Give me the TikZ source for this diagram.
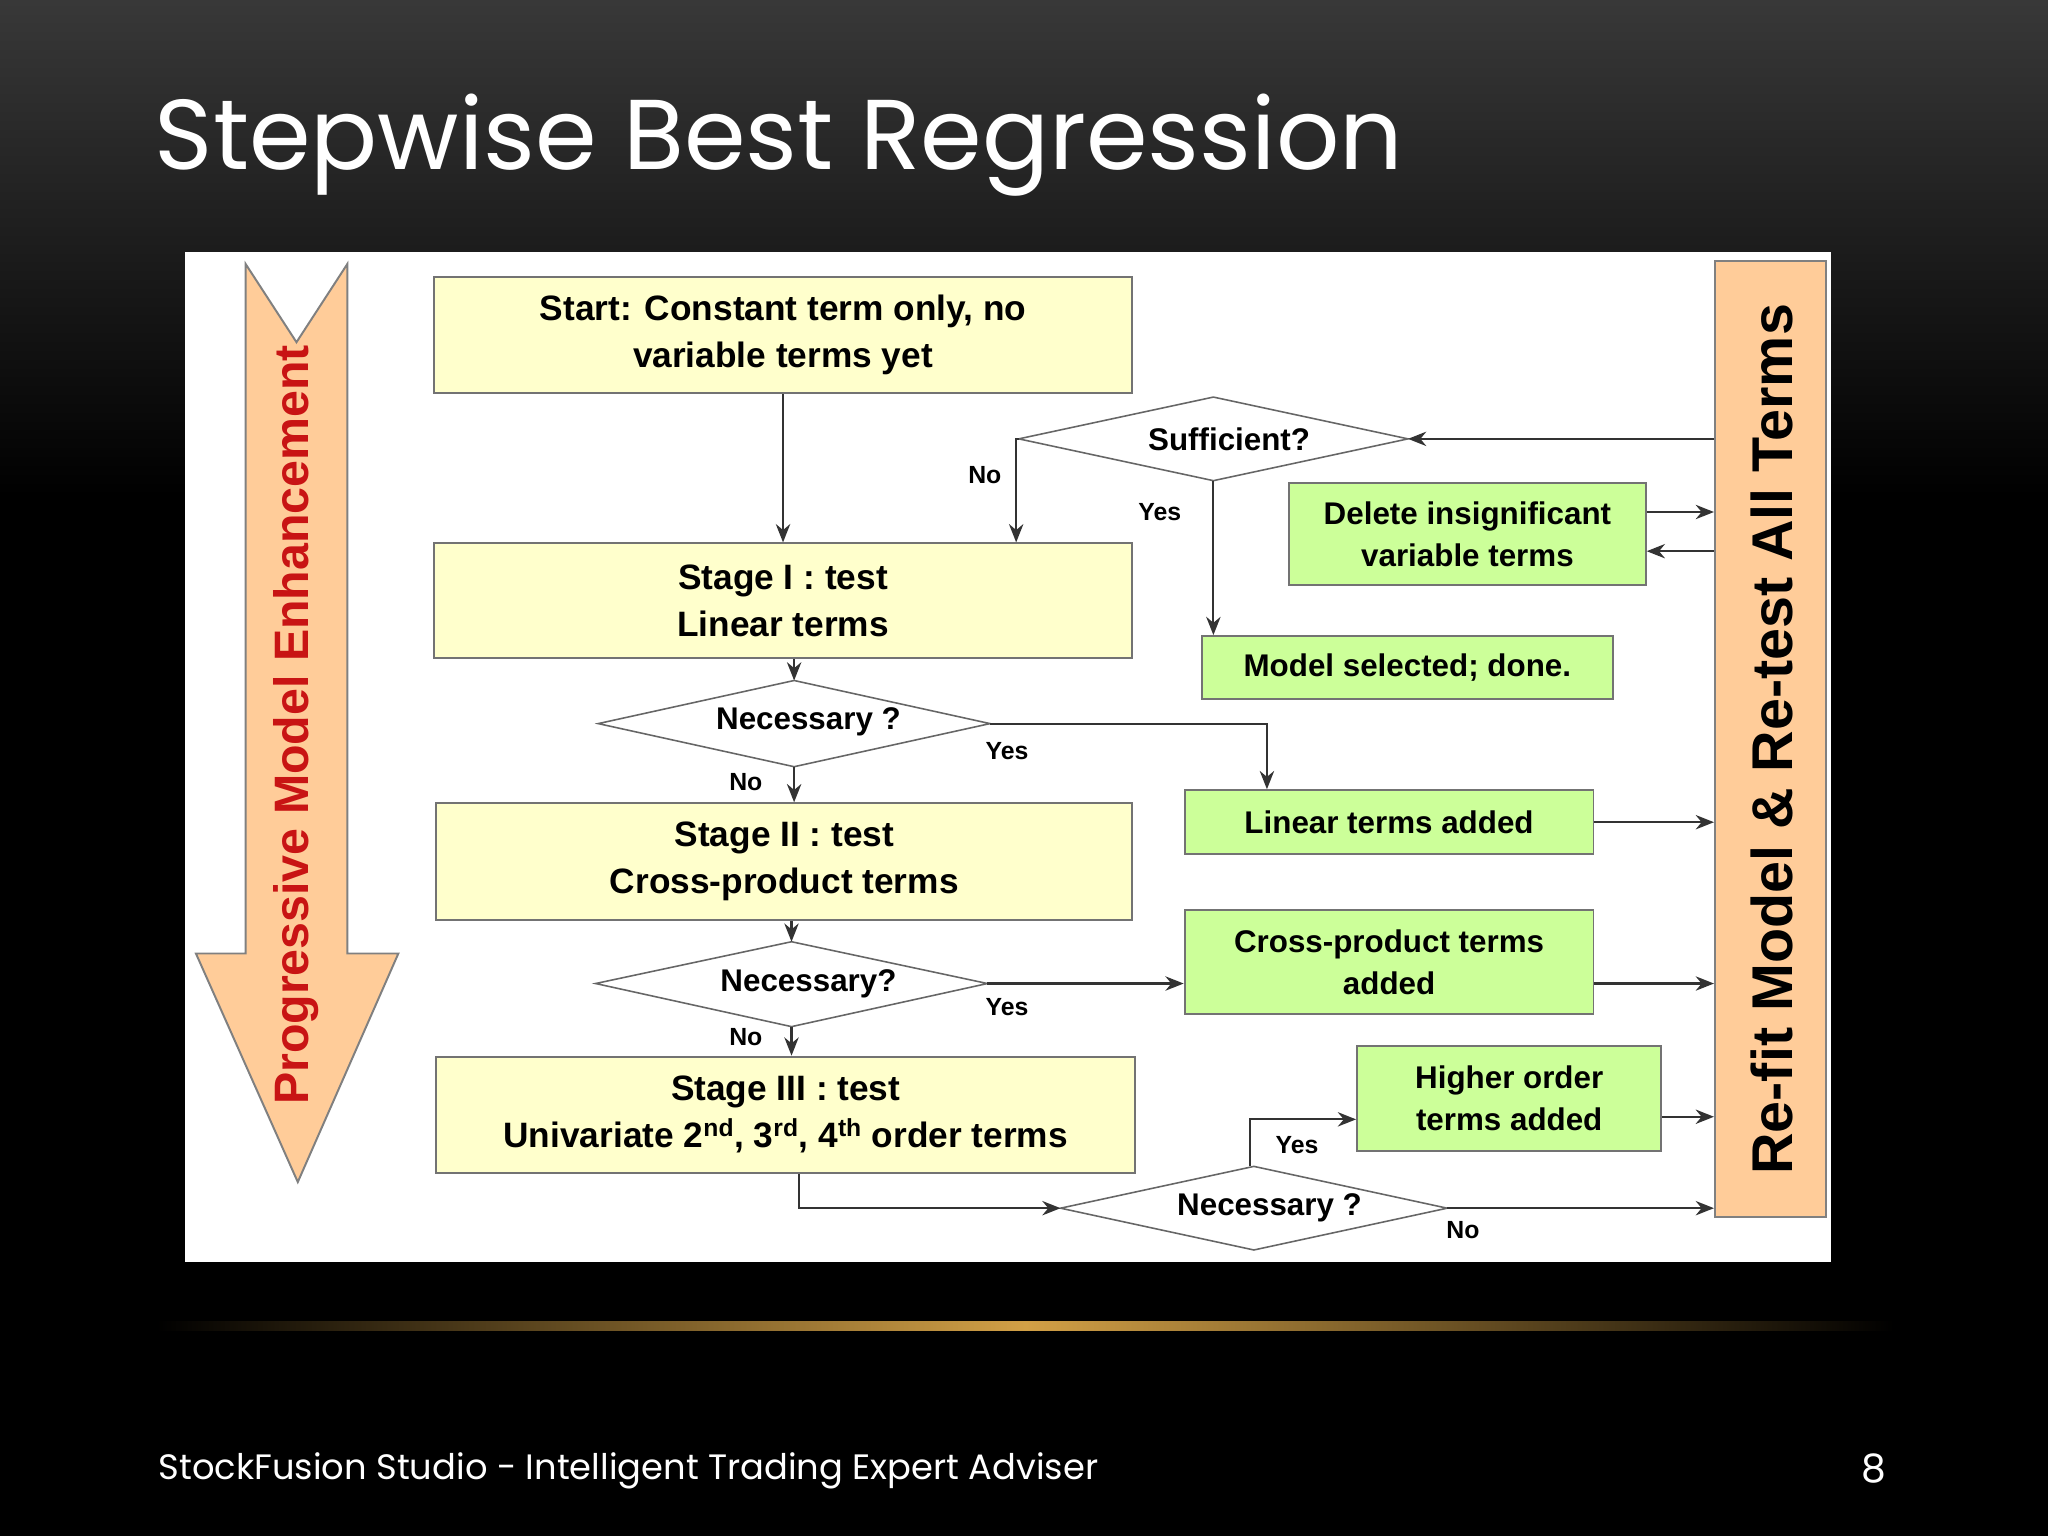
\documentclass[tikz,border=0pt]{standalone}
\usepackage{fontspec}
\setmainfont{Liberation Sans}
\newfontfamily\titlefont{Poppins}
\usetikzlibrary{shapes.geometric,arrows.meta}
\definecolor{ybox}{HTML}{FFFFCC}
\definecolor{gbox}{HTML}{CCFF99}
\definecolor{obox}{HTML}{FFCC99}
\tikzset{
 box/.style={draw=black!55,line width=1.5pt,align=center,font=\fontsize{27}{36}\selectfont\bfseries,inner sep=0pt},
 ybx/.style={box,fill=ybox},
 gbx/.style={box,fill=gbox},
 dia/.style={draw=black!60,line width=1.2pt,fill=white},
 dtx/.style={font=\fontsize{24}{28}\selectfont\bfseries,inner sep=0pt},
 con/.style={draw=black!80,line width=1.6pt,-{Stealth[length=14pt,width=11pt]}},
 lbl/.style={font=\fontsize{19}{22}\selectfont\bfseries}
}
\begin{document}
\begin{tikzpicture}[x=1pt,y=-1pt]
\useasboundingbox (0,0) rectangle (1568,1176);
\fill[black] (0,0) rectangle (1568,1176);
\shade[top color=black!78,bottom color=black] (0,0) rectangle (1568,380);
\shade[left color=black,right color=black,middle color={rgb,255:red,210;green,160;blue,70}] (120,1012) rectangle (1450,1019);
\node[anchor=base west,text=white,font=\titlefont\fontsize{76}{84}\selectfont] (title) at (115,130) {Stepwise Best Regression};
\node[anchor=base west,text=white,font=\titlefont\fontsize{27}{32}\selectfont] (foot) at (118,1133) {StockFusion Studio - Intelligent Trading Expert Adviser};
\node[anchor=base east,text=white,font=\titlefont\fontsize{30}{34}\selectfont] (pg) at (1448,1135) {8};
\fill[white] (142,193) rectangle (1402,966);
% progressive arrow
\draw[fill=obox,draw=black!50,line width=1.5pt] (188,202) -- (227,262) -- (266,202) -- (266,730) -- (305,730) -- (228,905) -- (150,730) -- (188,730) -- cycle;
\node[rotate=90,text={rgb,255:red,200;green,20;blue,20},font=\fontsize{37}{40}\selectfont\bfseries] (prog) at (227,555) {Progressive Model Enhancement};
% refit
\node[draw=black!50,line width=1.5pt,fill=obox,minimum width=85pt,minimum height=732pt,inner sep=0pt] (refit) at (1355.5,566) {};
\node[rotate=90,font=\fontsize{44}{48}\selectfont\bfseries] (refitt) at (1357,566) {Re-fit Model \& Re-test All Terms};
% boxes
\node[ybx,minimum width=535pt,minimum height=89pt] (start) at (599.5,256.5) {Start: Constant term only, no\\variable terms yet};
\node[ybx,minimum width=535pt,minimum height=88pt] (s1) at (599.5,460) {Stage I : test\\Linear terms};
\node[ybx,minimum width=533pt,minimum height=89pt] (s2) at (600.5,659.5) {Stage II : test\\Cross-product terms};
\node[ybx,minimum width=535pt,minimum height=89pt] (s3) at (601.5,853.5) {Stage III : test\\Univariate 2\textsuperscript{nd}, 3\textsuperscript{rd}, 4\textsuperscript{th} order terms};
\node[gbx,minimum width=273pt,minimum height=78pt,font=\fontsize{24}{32}\selectfont\bfseries] (del) at (1123.5,409) {Delete insignificant\\variable terms};
\node[gbx,minimum width=315pt,minimum height=48pt,font=\fontsize{24}{32}\selectfont\bfseries] (sel) at (1077.5,511) {Model selected; done.};
\node[gbx,minimum width=313pt,minimum height=49pt,font=\fontsize{24}{32}\selectfont\bfseries] (lin) at (1063.5,629.5) {Linear terms added};
\node[gbx,minimum width=313pt,minimum height=79pt,font=\fontsize{24}{32}\selectfont\bfseries] (cross) at (1063.5,736.5) {Cross-product terms\\added};
\node[gbx,minimum width=233pt,minimum height=80pt,font=\fontsize{24}{32}\selectfont\bfseries] (high) at (1155.5,841) {Higher order\\terms added};
% diamonds
\coordinate (sufW) at (780,336); \coordinate (sufE) at (1078,336); \coordinate (sufN) at (929,304); \coordinate (sufS) at (929,368);
\draw[dia] (sufW) -- (sufN) -- (sufE) -- (sufS) -- cycle;
\node[dtx] (suf) at (941,336) {Sufficient?};
\coordinate (n1W) at (458,554); \coordinate (n1E) at (758,554); \coordinate (n1N) at (608,521); \coordinate (n1S) at (608,587);
\draw[dia] (n1W) -- (n1N) -- (n1E) -- (n1S) -- cycle;
\node[dtx] (n1) at (619,553) {Necessary ?};
\coordinate (n2W) at (456,753); \coordinate (n2E) at (756,753); \coordinate (n2N) at (606,721); \coordinate (n2S) at (606,786);
\draw[dia] (n2W) -- (n2N) -- (n2E) -- (n2S) -- cycle;
\node[dtx] (n2) at (619,753) {Necessary?};
\coordinate (n3W) at (812,925); \coordinate (n3E) at (1108,925); \coordinate (n3N) at (960,893); \coordinate (n3S) at (960,957);
\draw[dia] (n3W) -- (n3N) -- (n3E) -- (n3S) -- cycle;
\node[dtx] (n3) at (972,925) {Necessary ?};
\coordinate (c0) at (778,336);
\coordinate (c1) at (970,554);
\coordinate (c3) at (612,925);
\coordinate (c4) at (957,857);
% connectors
\draw[con] (start.south) -- (s1.north);
\draw[con] (refit.west |- sufE) -- (sufE);
\draw[con] (sufW) -- (c0) -- (c0 |- s1.north);
\node[lbl] (no0) at (754,364) {No};
\draw[con] (sufS) -- (sufS |- sel.north);
\node[lbl] (y0) at (888,392) {Yes};
\draw[con] (del.east |- 0,392) -- (refit.west |- 0,392);
\draw[con] (refit.west |- 0,422) -- (del.east |- 0,422);
\draw[con] (n1N |- s1.south) -- (n1N);
\draw[con] (n1S) -- (n1S |- s2.north);
\node[lbl] (no1) at (571,599) {No};
\draw[con] (n1E) -- (c1) -- (c1 |- lin.north);
\node[lbl] (y1) at (771,575) {Yes};
\draw[con] (lin.east) -- (refit.west |- lin.east);
\draw[con] (n2N |- s2.south) -- (n2N);
\draw[con] (n2E) -- (cross.west |- n2E);
\node[lbl] (y2) at (771,771) {Yes};
\draw[con] (n2S) -- (n2S |- s3.north);
\node[lbl] (no2) at (571,794) {No};
\draw[con] (cross.east |- n2E) -- (refit.west |- n2E);
\draw[con] (c3 |- s3.south) -- (c3) -- (n3W);
\draw[con] (c4 |- n3N) -- (c4) -- (high.west |- c4);
\node[lbl] (y3) at (993,877) {Yes};
\draw[con] (n3E) -- (refit.west |- n3E);
\node[lbl] (no3) at (1120,942) {No};
\draw[con] (high.east |- 0,855) -- (refit.west |- 0,855);
\end{tikzpicture}
\end{document}
